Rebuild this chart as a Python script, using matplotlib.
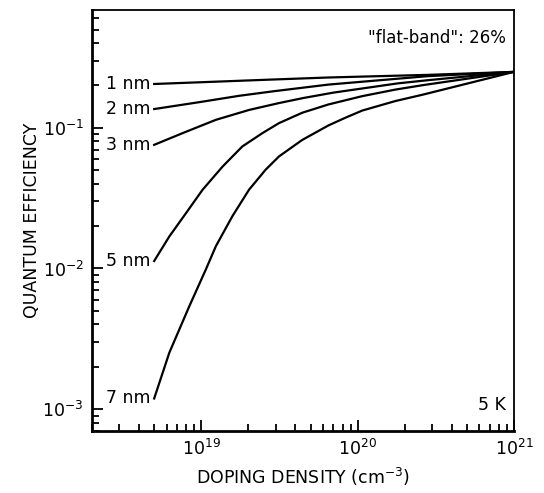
import matplotlib
matplotlib.use('Agg')
import matplotlib.pyplot as plt
from matplotlib.ticker import LogLocator, NullFormatter

plt.rcParams['font.family'] = ['DejaVu Sans']
plt.rcParams['mathtext.default'] = 'regular'

# doping density (cm^-3) and quantum efficiency
dop_1nm = [5e18, 1e19, 2.7e19, 6.5e19, 2.8e20, 1e21]
qe_1nm = [0.205, 0.211, 0.220, 0.228, 0.238, 0.25]

dop_2nm = [5e18, 1e19, 1.75e19, 2.9e19, 6.5e19, 2.8e20, 1e21]
qe_2nm = [0.136, 0.153, 0.169, 0.182, 0.203, 0.233, 0.25]

dop_3nm = [5e18, 7.6e18, 1.24e19, 2.02e19, 3.14e19, 4.5e19, 7e19, 1.8e20, 2.8e20, 1e21]
qe_3nm = [0.0757, 0.0917, 0.114, 0.134, 0.150, 0.163, 0.178, 0.207, 0.218, 0.25]

dop_5nm = [5e18, 6.25e18, 8.0e18, 1.02e19, 1.37e19, 1.83e19, 2.46e19, 3.14e19,
           4.42e19, 6.5e19, 1.07e20, 1.74e20, 2.6e20, 1e21]
qe_5nm = [0.0113, 0.0169, 0.0248, 0.0363, 0.0531, 0.0737, 0.0917, 0.108,
          0.128, 0.1466, 0.168, 0.187, 0.201, 0.25]

dop_7nm = [5e18, 6.25e18, 8.4e18, 1.07e19, 1.24e19, 1.58e19, 2.02e19, 2.58e19,
           3.14e19, 4.42e19, 6.5e19, 8.35e19, 1.07e20, 1.74e20, 2.6e20, 1e21]
qe_7nm = [1.19e-3, 2.52e-3, 5.41e-3, 9.84e-3, 0.0144, 0.0235, 0.0363, 0.0504,
          0.0626, 0.082, 0.104, 0.118, 0.1327, 0.155, 0.172, 0.25]

curve_labels = ['1 nm', '2 nm', '3 nm', '5 nm', '7 nm']
x_ticks = [1e19, 1e20, 1e21]
x_ticklabels = ['10$^{19}$', '10$^{20}$', '10$^{21}$']
y_ticks = [1e-3, 1e-2, 1e-1]
y_ticklabels = ['10$^{-3}$', '10$^{-2}$', '10$^{-1}$']

fig = plt.figure(figsize=(5.44, 4.93), dpi=100)
ax = fig.add_axes([0.169, 0.126, 0.776, 0.854])

curves = [(dop_1nm, qe_1nm), (dop_2nm, qe_2nm), (dop_3nm, qe_3nm),
          (dop_5nm, qe_5nm), (dop_7nm, qe_7nm)]
for (xs, ys), lab in zip(curves, curve_labels):
    ax.plot(xs, ys, color='black', lw=1.6, solid_joinstyle='round')
    ax.annotate(lab, (xs[0], ys[0]), xytext=(-3, 0), textcoords='offset points',
                ha='right', va='center', fontsize=12.5)

ax.set_xscale('log')
ax.set_yscale('log')
ax.set_xlim(2e18, 1e21)
ax.set_ylim(7e-4, 0.69)

ax.set_xticks(x_ticks)
ax.set_xticklabels(x_ticklabels)
ax.set_yticks(y_ticks)
ax.set_yticklabels(y_ticklabels)
ax.xaxis.set_minor_locator(LogLocator(base=10, subs=range(2, 10), numticks=20))
ax.yaxis.set_minor_locator(LogLocator(base=10, subs=range(2, 10), numticks=20))
ax.xaxis.set_minor_formatter(NullFormatter())
ax.yaxis.set_minor_formatter(NullFormatter())

ax.tick_params(which='both', direction='in', top=False, right=False,
               labelsize=12.5, width=1.3)
ax.tick_params(which='major', length=8, pad=6)
ax.tick_params(which='minor', length=5)

for side in ['left', 'bottom']:
    ax.spines[side].set_linewidth(2.0)
for side in ['top', 'right']:
    ax.spines[side].set_linewidth(1.3)

ax.set_xlabel('DOPING DENSITY (cm$^{-3}$)', fontsize=12.5, labelpad=5)
ax.set_ylabel('QUANTUM EFFICIENCY', fontsize=12.5, labelpad=1)

ax.text(0.98, 0.955, '"flat-band": 26%', transform=ax.transAxes,
        ha='right', va='top', fontsize=12)
ax.text(0.98, 0.04, '5 K', transform=ax.transAxes,
        ha='right', va='bottom', fontsize=12.5)

fig.savefig('out.png', dpi=100)
